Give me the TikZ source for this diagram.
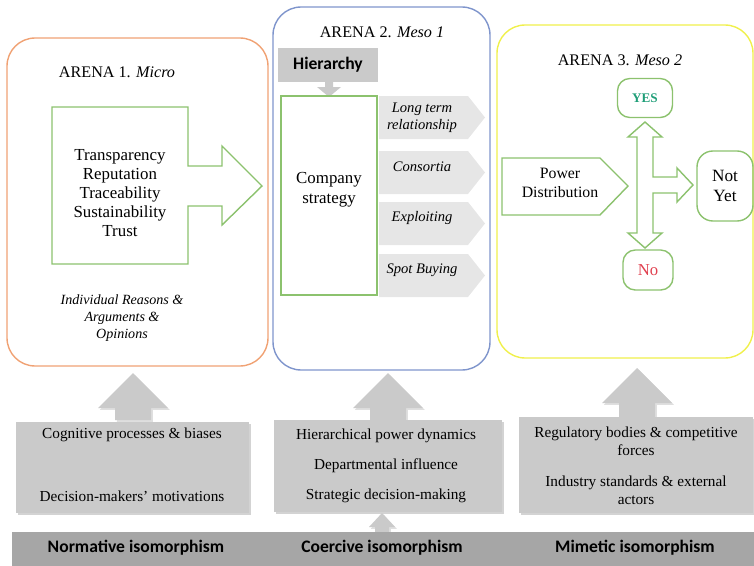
\documentclass[tikz,border=0pt]{standalone}
\usepackage{fontspec}
\setmainfont{Liberation Serif}
\newfontfamily\calibri{Carlito}
\usetikzlibrary{shadows}

\definecolor{arenaorange}{HTML}{F0A274}
\definecolor{arenablue}{HTML}{7F95CC}
\definecolor{arenayellow}{HTML}{F0F04C}
\definecolor{boxgreen}{HTML}{8CC26E}
\definecolor{liftgray}{HTML}{CACACA}
\definecolor{tabgray}{HTML}{E6E6E6}
\definecolor{bargray}{HTML}{A6A6A6}
\definecolor{yesgreen}{HTML}{1F9E78}
\definecolor{nored}{HTML}{E0404F}

\tikzset{
  arena/.style={line width=0.8pt,rounded corners=16pt},
  greenline/.style={draw=boxgreen,line width=0.8pt,fill=white},
  answer/.style={draw=boxgreen,line width=0.8pt,rounded corners=7pt},
  liftbox/.style={fill=liftgray,drop shadow={opacity=0.35,shadow xshift=1pt,shadow yshift=-1pt}},
  liftarrow/.style={fill=liftgray,drop shadow={opacity=0.25,shadow xshift=1pt,shadow yshift=-1pt}},
  barlabel/.style={font=\calibri\bfseries\fontsize{10}{12}\selectfont},
  title/.style={font=\rmfamily\fontsize{9.2}{11}\selectfont}
}

\begin{document}
\begin{tikzpicture}
  [x=0.02cm,y=-0.02cm,every node/.style={font=\rmfamily\fontsize{8.7}{10.4}\selectfont,align=center,inner sep=0pt}]
  \clip (0,0) rectangle (754,565);

  % the three arenas
  \draw[arena,arenaorange] (7,38) rectangle (268,366);
  \draw[arena,arenablue] (273,7) rectangle (490,370);
  \draw[arena,arenayellow] (497,25) rectangle (753,358);
  \node[title] (t1) at (117,72) {ARENA 1. \textit{Micro}};
  \node[title] (t2) at (382,32) {ARENA 2. \textit{Meso 1}};
  \node[title] (t3) at (620,60) {ARENA 3. \textit{Meso 2}};

  % arena 1
  \draw[greenline] (52,107) -- (188,107) -- (188,166) -- (222,166) -- (222,146) -- (262,186)
    -- (222,225) -- (222,206) -- (188,206) -- (188,264) -- (52,264) -- cycle;
  \node[font=\rmfamily\fontsize{9.6}{10.8}\selectfont] (values) at (120,193)
    {Transparency\\Reputation\\Traceability\\Sustainability\\Trust};
  \node[font=\rmfamily\itshape\fontsize{8}{9.6}\selectfont] (reasons) at (122,318)
    {Individual Reasons \&\\Arguments \&\\Opinions};

  % arena 2
  \node[fill=liftgray,minimum width=2cm,minimum height=0.68cm,
    font=\calibri\bfseries\fontsize{10}{12}\selectfont] (hier) at (328,65) {Hierarchy};
  \fill[liftgray] (325,82) -- (333,82) -- (333,87) -- (341,87) -- (329,97) -- (317,87) -- (325,87) -- cycle;
  \draw[greenline] (281,96) rectangle (377,295);
  \node[font=\rmfamily\fontsize{9.6}{11.4}\selectfont] (strategy) at (329,190) {Company\\strategy};
  \foreach \top/\mid/\txt in {96/118/{Long term\\relationship},151/167/Consortia,
                              202/218/Exploiting,254/270/Spot Buying}
  {
    \fill[tabgray] (379,\top) -- (468,\top) -- (485,\top+21.5) -- (468,\top+43) -- (379,\top+43) -- cycle;
    \node[font=\rmfamily\itshape\fontsize{8.3}{9.8}\selectfont] at (422,\mid) {\txt};
  }

  % arena 3
  \draw[greenline] (502,158) -- (600,158) -- (628,186) -- (600,215) -- (502,215) -- cycle;
  \node[font=\rmfamily\fontsize{9}{10.4}\selectfont] (power) at (560,183) {Power\\Distribution};
  \draw[greenline] (645,122) -- (662,137) -- (653,137) -- (653,177) -- (677,177) -- (677,168)
    -- (693,185) -- (677,202) -- (677,193) -- (653,193) -- (653,233) -- (662,233) -- (645,248)
    -- (628,233) -- (637,233) -- (637,137) -- (628,137) -- cycle;
  \node[answer,minimum width=1.1cm,minimum height=0.78cm,text=yesgreen,
    font=\rmfamily\fontsize{7.5}{8}\selectfont\bfseries] (yes) at (645,98) {YES};
  \node[answer,minimum width=1cm,minimum height=0.8cm,text=nored,
    font=\rmfamily\fontsize{9.5}{11}\selectfont] (no) at (648,270) {No};
  \node[answer,rounded corners=9pt,minimum width=1.12cm,minimum height=1.4cm,
    font=\rmfamily\fontsize{9.8}{11.4}\selectfont] (notyet) at (725,186) {Not\\Yet};

  % lifting arrows
  \foreach \cx/\tip/\base in {133/373/420,388/373/420,637/368/417}
    \path[liftarrow] (\cx-18,\base) -- (\cx-18,\tip+35) -- (\cx-35,\tip+35) -- (\cx,\tip)
      -- (\cx+35,\tip+35) -- (\cx+18,\tip+35) -- (\cx+18,\base) -- cycle;

  % pressure boxes
  \path[liftbox] (16,422) rectangle (249,513);
  \path[liftbox] (274,420) rectangle (502,512);
  \path[liftbox] (519,417) rectangle (753,513);
  \node (cog) at (132,435) {Cognitive processes \& biases};
  \node (mot) at (132,496) {Decision-makers' motivations};
  \node (pow) at (386,436) {Hierarchical power dynamics};
  \node (dep) at (386,466) {Departmental influence};
  \node (dec) at (386,496) {Strategic decision-making};
  \node (reg) at (636,441) {Regulatory bodies \& competitive\\forces};
  \node (ind) at (636,490) {Industry standards \& external\\actors};

  % isomorphism bar
  \path[liftarrow] (375,532) -- (375,527) -- (369,527) -- (382,513) -- (395,527) -- (389,527) -- (389,532) -- cycle;
  \fill[bargray] (12,532) rectangle (760,570);
  \node[barlabel] (norm) at (136,548) {Normative isomorphism};
  \node[barlabel] (coer) at (382,548) {Coercive isomorphism};
  \node[barlabel] (mim) at (635,548) {Mimetic isomorphism};
\end{tikzpicture}
\end{document}
